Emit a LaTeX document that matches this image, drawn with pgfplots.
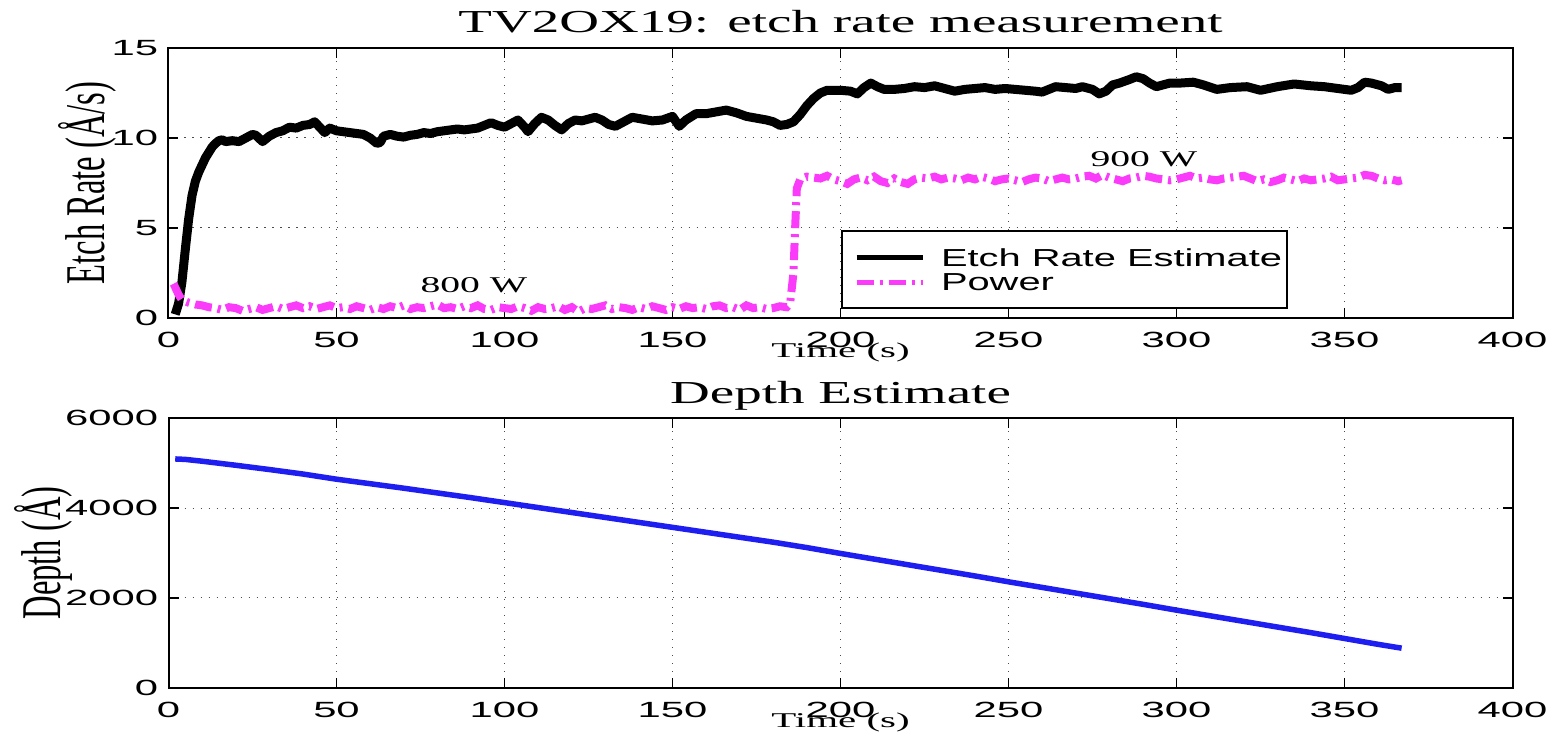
\documentclass[border=0pt]{standalone}
\usepackage{fontspec}
\setmainfont{Liberation Serif}
\setsansfont{Liberation Sans}
\usepackage{graphicx}
\usepackage{pgfplots}
\pgfplotsset{compat=1.18}
\definecolor{pinkc}{RGB}{250,60,250}
\definecolor{bluec}{RGB}{30,30,240}
\newcommand{\tl}[1]{\scalebox{1.9}[1]{#1}}
\pgfplotsset{myax/.style={
  scale only axis, width=672pt, height=135pt,
  xmin=0, xmax=400, xtick={0,50,...,400},
  grid=major,
  major grid style={black!70, line width=0.5pt, dash pattern=on 0.6pt off 3.4pt},
  axis line style={line width=1pt},
  tick style={black, line width=0.8pt},
  major tick length=5pt,
  tick align=inside,
  ticklabel style={font=\sffamily\fontsize{11}{12}\selectfont},
  /pgf/number format/assume math mode=true,
  /pgf/number format/1000 sep={},
  scaled ticks=false,
  xticklabel={\tl{\pgfmathprintnumber{\tick}}},
  yticklabel={\tl{\pgfmathprintnumber{\tick}}},
  xticklabel style={yshift=-3.3pt},
  yticklabel style={xshift=-1.6pt},
  xlabel={\scalebox{1.95}[1]{Time (s)}},
  xlabel style={font=\fontsize{10.5}{12}\selectfont, at={(axis description cs:0.5,0)}, anchor=base, yshift=-20pt},
  title style={font=\fontsize{16}{18}\selectfont, at={(axis description cs:0.5,1)}, anchor=base, yshift=1.5pt},
  ylabel style={font=\fontsize{16.3}{18}\selectfont, anchor=base},
}}
\begin{document}
\begin{tikzpicture}
\useasboundingbox (-84.25pt,-24.5pt) rectangle (693.75pt,344pt);
\begin{axis}[myax, at={(0pt,185pt)}, anchor=south west,
  ymin=0, ymax=15, ytick={0,5,10,15},
  title={\scalebox{1.72}[1]{TV2OX19: etch rate measurement}},
  ylabel={\scalebox{1}[1.72]{Etch Rate (Å/s)}},
  ylabel style={at={(axis description cs:-0.0476,0.5)}},
  legend style={at={(axis cs:200,0.5)}, anchor=south west, draw=black, line width=1pt, fill=white,
    inner xsep=0pt, inner ysep=8.5pt, row sep=4pt, column sep=8pt,
    nodes={inner sep=0pt, text depth=0pt},
    font=\sffamily\fontsize{12.3}{13}\selectfont},
  legend cell align=left,
  legend image code/.code={\path[draw=none] (0pt,0pt) -- (7.5pt,0pt); \draw[#1, line width=2.5pt] (7.5pt,0pt) -- (40.5pt,0pt);},
]
\addplot[black, line width=4.5pt, line join=round] coordinates {
(2,0.2)(3,0.8)(4,2.0)(5,3.8)(6,5.5)(7,6.8)(8,7.6)(9,8.1)(10,8.5)(11,8.9)(12,9.2)(13,9.5)(14,9.7)(15,9.85)(16,9.9)(17,9.8)(19,9.85)(21,9.8)(23,10.0)(25,10.2)(26,10.15)(28,9.8)(30,10.1)(32,10.3)(34,10.4)(36,10.6)(38,10.55)(40,10.7)(42,10.75)(43.5,10.9)(45,10.6)(46.5,10.3)(48,10.55)(50,10.4)(52,10.35)(54,10.3)(56,10.25)(58,10.2)(60,10.0)(62,9.7)(63,9.75)(64,10.1)(66,10.2)(68,10.1)(70,10.05)(72,10.15)(74,10.2)(76,10.3)(78,10.25)(80,10.35)(82,10.4)(84,10.45)(86,10.5)(88,10.45)(90,10.5)(92,10.55)(94,10.7)(96,10.85)(98,10.7)(100,10.6)(102,10.8)(104,11.0)(106,10.6)(107,10.35)(109,10.8)(111,11.15)(113,11.0)(115,10.7)(117,10.45)(119,10.8)(121,11.0)(123,10.95)(125,11.05)(127,11.15)(129,11.0)(131,10.75)(133,10.65)(135,10.85)(138,11.15)(141,11.05)(144,10.95)(147,11.0)(150,11.2)(152,10.65)(154,11.0)(157,11.35)(160,11.35)(163,11.45)(166,11.55)(169,11.4)(172,11.2)(175,11.1)(178,11.0)(180,10.9)(182,10.7)(184,10.75)(186,10.9)(188,11.3)(190,11.8)(192,12.2)(194,12.5)(196,12.65)(198,12.65)(200,12.65)(203,12.6)(205,12.45)(207,12.8)(209,13.05)(211,12.85)(213,12.7)(216,12.7)(219,12.75)(222,12.85)(225,12.8)(228,12.9)(231,12.75)(234,12.6)(237,12.7)(240,12.75)(243,12.8)(246,12.7)(249,12.75)(252,12.7)(255,12.65)(258,12.6)(260,12.55)(262,12.7)(264,12.85)(267,12.8)(270,12.75)(272,12.85)(275,12.7)(277,12.45)(279,12.6)(281,12.95)(283,13.05)(286,13.25)(288,13.4)(290,13.3)(292,13.05)(294,12.85)(296,12.95)(298,13.05)(301,13.05)(305,13.1)(308,12.95)(312,12.7)(316,12.8)(321,12.85)(325,12.65)(330,12.85)(335,13.0)(340,12.9)(344,12.85)(348,12.75)(352,12.65)(354,12.8)(356,13.1)(358,13.05)(361,12.9)(363,12.7)(365,12.8)(367,12.8)
};
\addlegendentry{\makebox[173pt][l]{\scalebox{1.62}[1]{Etch Rate Estimate}}}
\addplot[pinkc, line width=4pt, dash pattern=on 8.5pt off 3pt on 1.5pt off 3pt] coordinates {
(1,1.6)(2,1.7)(3,1.3)(4,1.0)(6,0.85)(8,0.75)(10,0.7)(12,0.6)(14,0.55)(16,0.45)(18,0.6)(20,0.55)(22,0.4)(24,0.5)(26,0.6)(28,0.45)(30,0.55)(32,0.65)(34,0.5)(36,0.6)(38,0.7)(40,0.55)(42,0.65)(44,0.5)(46,0.6)(48,0.7)(50,0.55)(52,0.6)(54,0.5)(56,0.65)(58,0.55)(60,0.45)(62,0.6)(64,0.5)(66,0.65)(68,0.55)(70,0.7)(72,0.5)(74,0.6)(76,0.55)(78,0.65)(80,0.75)(82,0.55)(84,0.6)(86,0.5)(88,0.65)(90,0.55)(92,0.7)(94,0.5)(96,0.45)(98,0.6)(100,0.55)(102,0.5)(104,0.65)(106,0.55)(108,0.4)(110,0.6)(112,0.5)(114,0.55)(116,0.65)(118,0.45)(120,0.6)(122,0.35)(124,0.55)(126,0.5)(128,0.6)(130,0.7)(132,0.5)(134,0.6)(136,0.55)(138,0.45)(140,0.6)(142,0.5)(144,0.65)(146,0.55)(148,0.45)(150,0.6)(152,0.5)(154,0.65)(156,0.55)(158,0.6)(160,0.5)(162,0.65)(164,0.7)(166,0.55)(168,0.6)(170,0.45)(172,0.7)(174,0.55)(176,0.6)(178,0.5)(180,0.55)(182,0.65)(184,0.6)(185,0.8)(186,2.5)(186.5,5)(187,7.2)(188,7.7)(190,7.85)(192,7.8)(194,7.75)(196,7.9)(198,7.7)(200,7.6)(202,7.45)(204,7.7)(206,7.8)(208,7.65)(210,7.85)(212,7.6)(214,7.5)(216,7.75)(218,7.55)(220,7.45)(222,7.7)(224,7.8)(226,7.75)(228,7.85)(230,7.7)(232,7.8)(234,7.75)(236,7.65)(238,7.8)(240,7.7)(242,7.85)(244,7.75)(246,7.6)(248,7.7)(250,7.75)(252,7.65)(254,7.55)(256,7.7)(258,7.8)(260,7.75)(262,7.6)(264,7.7)(266,7.8)(268,7.7)(270,7.75)(272,7.85)(274,7.9)(276,7.75)(278,7.95)(280,7.8)(282,7.7)(284,7.6)(286,7.75)(288,7.8)(290,7.9)(292,7.85)(294,7.75)(296,7.7)(298,7.65)(300,7.7)(302,7.8)(304,7.9)(306,7.75)(308,7.8)(310,7.7)(312,7.65)(314,7.75)(316,7.8)(318,7.85)(320,7.9)(322,7.75)(324,7.6)(326,7.7)(328,7.55)(330,7.65)(332,7.8)(334,7.7)(336,7.6)(338,7.75)(340,7.65)(342,7.7)(344,7.75)(346,7.85)(348,7.65)(350,7.7)(352,7.75)(354,7.8)(356,7.95)(358,7.9)(360,7.75)(362,7.65)(364,7.7)(366,7.6)(367,7.65)
};
\addlegendentry{\makebox[173pt][l]{\scalebox{1.62}[1]{Power}}}
\node[anchor=base, font=\fontsize{11.25}{12}\selectfont] at (axis cs:90.9,1.44) {\scalebox{1.76}[1]{800 W}};
\node[anchor=base, font=\fontsize{11.25}{12}\selectfont] at (axis cs:290.3,8.39) {\scalebox{1.76}[1]{900 W}};
\end{axis}
\begin{axis}[myax, at={(0pt,0pt)}, anchor=south west,
  ymin=0, ymax=6000, ytick={0,2000,4000,6000},
  title={\scalebox{1.72}[1]{Depth Estimate}},
  ylabel={\scalebox{1}[1.72]{Depth (Å)}},
  ylabel style={at={(axis description cs:-0.0807,0.5)}},
]
\addplot[bluec, line width=2.75pt] coordinates {
(2,5090)(5,5080)(10,5040)(20,4950)(30,4855)(40,4755)(50,4640)(60,4540)(70,4440)(80,4335)(90,4230)(100,4120)(110,4010)(120,3900)(130,3790)(140,3680)(150,3570)(160,3460)(170,3350)(180,3240)(190,3120)(200,2990)(210,2865)(220,2740)(230,2615)(240,2490)(250,2360)(260,2235)(270,2110)(280,1985)(290,1860)(300,1730)(310,1605)(320,1480)(330,1355)(340,1230)(350,1100)(360,970)(367,885)
};
\end{axis}
\end{tikzpicture}
\end{document}
